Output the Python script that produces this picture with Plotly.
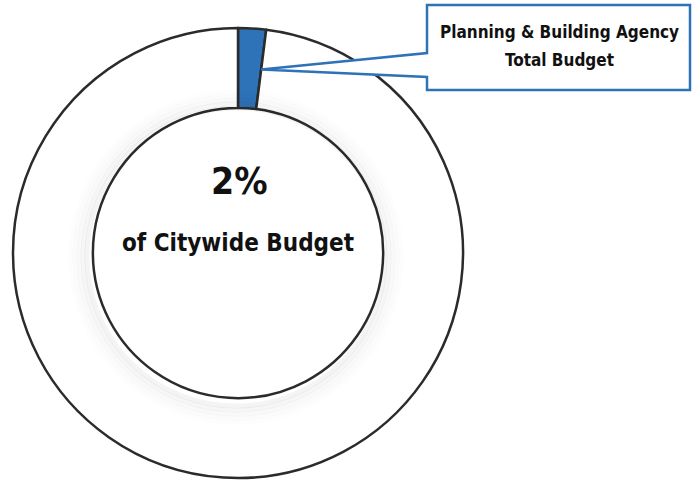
import math
import plotly.graph_objects as go

# Budget share data
labels = ["Planning & Building Agency", "Rest of Citywide Budget"]
values = [2, 98]
colors = ["#2E72B8", "#FFFFFF"]

center_title = "2%"
center_subtitle = "of Citywide Budget"
callout_lines = ["Planning & Building Agency", "Total Budget"]

W, H = 692, 484
CX, CY, R_OUT = 238, 253, 225
HOLE = 0.645
R_IN = R_OUT * HOLE

FONT = "DejaVu Sans Condensed, Liberation Sans Narrow, sans-serif"
BLUE = "#2E72B8"
EDGE = "#2B2B2B"


def px(x, y):
    """Pixel position (top-left origin) -> paper coordinates."""
    return x / W, 1 - y / H


fig = go.Figure()

fig.add_trace(go.Pie(
    labels=labels,
    values=values,
    hole=HOLE,
    sort=False,
    direction="clockwise",
    rotation=0,
    textinfo="none",
    hoverinfo="label+percent",
    showlegend=False,
    marker=dict(colors=colors, line=dict(color=EDGE, width=2.5)),
    domain=dict(
        x=[(CX - R_OUT) / W, (CX + R_OUT) / W],
        y=[1 - (CY + R_OUT) / H, 1 - (CY - R_OUT) / H],
    ),
))

# soft shading inside the ring, just outside the hole
for i, (dr, alpha) in enumerate([(4, 0.045), (8, 0.035), (12, 0.025), (16, 0.015), (20, 0.008)]):
    r = R_IN + dr
    ox, oy = -2, 4
    x0, y0 = px(CX + ox - r, CY + oy - r)
    x1, y1 = px(CX + ox + r, CY + oy + r)
    fig.add_shape(type="circle", xref="paper", yref="paper",
                  x0=x0, y0=y1, x1=x1, y1=y0,
                  line=dict(color=f"rgba(0,0,0,{alpha})", width=5),
                  fillcolor="rgba(0,0,0,0)", layer="above")

# callout pointer tip: end of the highlighted slice, mid-ring
share = values[0] / sum(values)
ang = 2 * math.pi * share
r_mid = (R_OUT + R_IN) / 2
tip_x = CX + r_mid * math.sin(ang)
tip_y = CY - r_mid * math.cos(ang)

bx0, by0, bx1, by1 = 427, 5, 690, 90
ny0, ny1 = 53, 77
pts = [(bx0, by0), (bx1, by0), (bx1, by1), (bx0, by1), (bx0, ny1),
       (tip_x, tip_y), (bx0, ny0)]
path = "M " + " L ".join(f"{px(x, y)[0]:.5f},{px(x, y)[1]:.5f}" for x, y in pts) + " Z"
fig.add_shape(type="path", path=path, xref="paper", yref="paper",
              fillcolor="white", line=dict(color=BLUE, width=2.5), layer="above")

annos = []
x, y = px(CX + 1, 181)
annos.append(dict(x=x, y=y, text=f"<b>{center_title}</b>",
                  font=dict(size=37, color="#111", family=FONT)))
x, y = px(CX, 243)
annos.append(dict(x=x, y=y, text=f"<b>{center_subtitle}</b>",
                  font=dict(size=24, color="#111", family=FONT)))
for line, ly in zip(callout_lines, [32, 60]):
    x, y = px((bx0 + bx1) / 2 + 1, ly)
    annos.append(dict(x=x, y=y, text=f"<b>{line}</b>",
                      font=dict(size=17, color="#111", family=FONT)))
for a in annos:
    a.update(xref="paper", yref="paper", showarrow=False,
             xanchor="center", yanchor="middle")

fig.update_layout(
    width=W, height=H,
    margin=dict(l=0, r=0, t=0, b=0),
    paper_bgcolor="white", plot_bgcolor="white",
    annotations=annos,
)

fig.write_html("out.html")
